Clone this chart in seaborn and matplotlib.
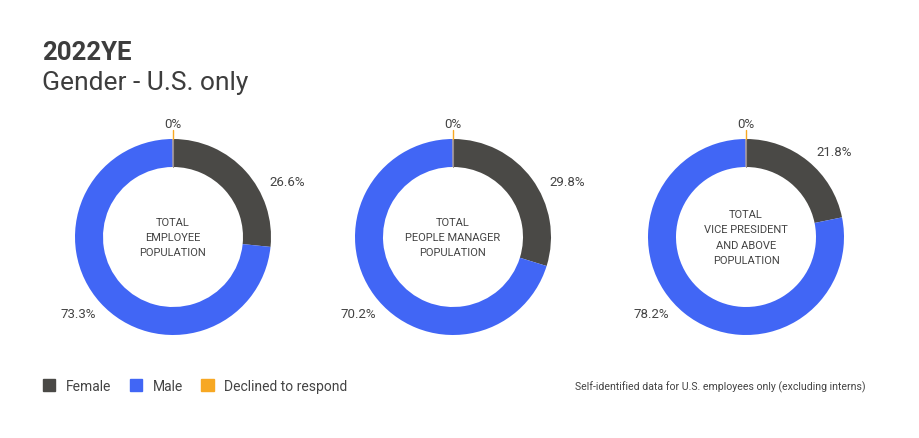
import numpy as np
import matplotlib
matplotlib.use("Agg")
import matplotlib.pyplot as plt
import seaborn as sns

# ---- data ----
groups = ["TOTAL\nEMPLOYEE\nPOPULATION",
          "TOTAL\nPEOPLE MANAGER\nPOPULATION",
          "TOTAL\nVICE PRESIDENT\nAND ABOVE\nPOPULATION"]
categories = ["Female", "Male", "Declined to respond"]
female = [26.6, 29.8, 21.8]
male = [73.3, 70.2, 78.2]
declined = [0.0, 0.0, 0.0]
colors = ["#4a4946", "#4166f5", "#f7a823"]

title = "2022YE"
subtitle = "Gender - U.S. only"
footnote = "Self-identified data for U.S. employees only (excluding interns)"

sns.set_theme(style="white")
plt.rcParams["font.family"] = ["Roboto", "DejaVu Sans"]

W, H = 919, 439
fig = plt.figure(figsize=(W / 100, H / 100), dpi=100)
fig.patch.set_facecolor("white")
ax = fig.add_axes([0, 0, 1, 1])

txt = "#444444"
centers_x = [173, 453, 746]
cy = H - 238
R = 98
ring = 28

for i in range(3):
    vals = [female[i], male[i], max(declined[i], 0.05)]
    cx = centers_x[i]
    wedges, _ = ax.pie(vals, colors=colors, startangle=90, counterclock=False,
                       center=(cx, cy), radius=R,
                       wedgeprops=dict(width=ring, linewidth=0))
    # thin marker for the declined slice at 12 o'clock
    ax.plot([cx, cx], [cy + R - ring, cy + R], color="#9a8f8a", lw=0.8, zorder=5)
    ax.plot([cx, cx], [cy + R, cy + R + 9], color=colors[2], lw=1.0, zorder=5)
    ax.text(cx, cy + R + 15, f"{declined[i]:g}%", ha="center", va="center",
            fontsize=9.5, color=txt)
    # slice labels
    start = 0.0
    for val, side in [(female[i], "right"), (male[i], "left")]:
        mid = start + val / 2.0
        start += val
        if side == "right":
            deg = mid * 3.6
            if deg > 45:          # pushed down to clear the top label
                deg = 60
            a2 = np.deg2rad(90 - deg)
            x = cx + (R + 13) * np.cos(a2)
            y = cy + (R + 13) * np.sin(a2)
            ax.text(x, y, f"{val:.1f}%", ha="left", va="center",
                    fontsize=9.5, color=txt)
        else:
            a2 = np.deg2rad(90 - 231)
            x = cx + (R + 24) * np.cos(a2)
            y = cy + (R + 24) * np.sin(a2)
            ax.text(x, y, f"{val:.1f}%", ha="center", va="center",
                    fontsize=9.5, color=txt)
    ax.text(cx, cy, groups[i], ha="center", va="center", fontsize=8,
            color=txt, linespacing=1.65)

ax.set_xlim(0, W)
ax.set_ylim(0, H)
ax.set_aspect("auto")
ax.axis("off")

fig.text(42 / W, 1 - 53 / H, title, fontsize=18.5, fontweight="bold",
         color="#3d3d3d", va="center", ha="left")
fig.text(42 / W, 1 - 83 / H, subtitle, fontsize=19, color="#3d3d3d",
         va="center", ha="left")

# legend
handles = [plt.Rectangle((0, 0), 1, 1, color=c) for c in colors]
fig.legend(handles, categories, loc="center left",
           bbox_to_anchor=(30 / W, 1 - 387 / H), ncol=3, frameon=False,
           fontsize=10, handlelength=0.9, handleheight=0.9,
           columnspacing=1.35, handletextpad=0.75, labelcolor=txt)

fig.text(866 / W, 1 - 387 / H, footnote, fontsize=7.6, color=txt,
         ha="right", va="center")

fig.savefig("out.png", dpi=100, facecolor="white")
